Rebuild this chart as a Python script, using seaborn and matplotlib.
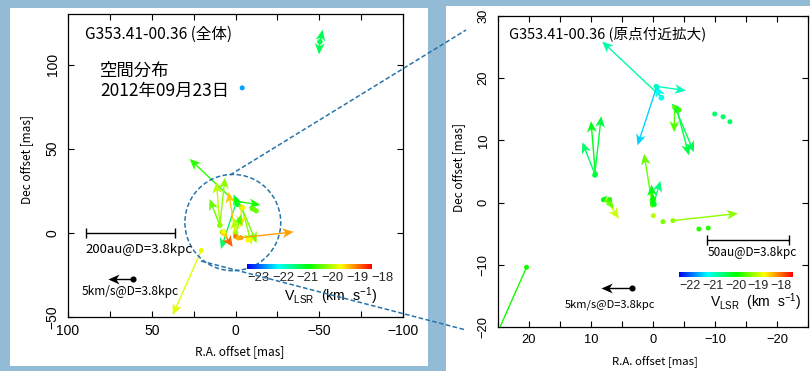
import numpy as np
import pandas as pd
import matplotlib
matplotlib.use("Agg")
import matplotlib.pyplot as plt
import seaborn as sns
from matplotlib.colors import LinearSegmentedColormap, Normalize
from matplotlib.patches import Rectangle, Circle
from matplotlib.lines import Line2D

# ---------------- data (maser spots) ----------------
# positions in mas, VLSR in km/s, proper motions in km/s (NaN = no vector)
ra = [-1.4, -0.6, -0.5, -1.3,
      -3.9, -3.6, -3.5, -3.9, -4.2,
      -9.95, -11.3, -12.4,
      9.35, 9.3, 9.4,
      8.0, 7.4, 7.2, 7.0,
      0.1, -0.1, 0.1, 0.0, -0.2,
      -0.05, -1.6, -3.2, -7.4, -8.9,
      20.4, -50.5, -50.3, -4.0]
dec = [16.9, 18.6, 18.7, 16.8,
       14.8, 15.2, 15.3, 15.0, 14.9,
       14.25, 13.8, 13.0,
       4.5, 4.6, 4.4,
       0.45, 0.3, 0.2, 0.5,
       -0.4, -0.2, 0.0, 0.2, -0.3,
       -2.1, -3.07, -2.9, -4.25, -4.1,
       -10.4, 113.5, 113.5, 86.1]
vlsr = [-20.3, -20.95, -20.4, -20.7,
        -19.8, -19.9, -19.1, -19.8, -19.2,
        -20.0, -20.0, -20.0,
        -20.0, -19.6, -19.8,
        -19.6, -18.5, -19.0, -19.3,
        -19.0, -20.1, -19.6, -19.5, -19.7,
        -18.6, -18.9, -18.8, -19.3, -19.3,
        -19.4, -20.9, -20.9, -22.2]
pm_ra = [9.6, 3.1, -4.8, 0.8,
         -1.9, -3.0, 0.1, 0.9, 0.4,
         np.nan, np.nan, np.nan,
         2.05, 0.7, -1.05,
         -0.6, -1.9, -0.9, -0.3,
         1.35, -1.1, 0.15, 0.1, 0.0,
         np.nan, np.nan, -10.5, np.nan, np.nan,
         5.7, -0.5, 0.15, np.nan]
pm_dec = [9.0, -9.4, -0.7, 2.0,
          -7.2, -7.1, -4.0, 0.9, 0.3,
          np.nan, np.nan, np.nan,
          5.2, 8.5, 9.5,
          0.65, -2.9, -1.2, 0.4,
          8.25, 3.7, 2.9, 1.4, 0.9,
          np.nan, np.nan, 1.15, np.nan, np.nan,
          -12.8, 2.4, -2.5, np.nan]

left_ticks_cb = [-23, -22, -21, -20, -19, -18]
right_ticks_cb = [-22, -21, -20, -19, -18]

df = pd.DataFrame(dict(ra=ra, dec=dec, vlsr=vlsr, pm_ra=pm_ra, pm_dec=pm_dec))

REF_V = 5.0              # km/s reference vector
AU_LEFT, AU_RIGHT = 200, 50
DIST_KPC = 3.8

# ---------------- style ----------------
sns.set_style("ticks")
plt.rcParams["font.family"] = ["Liberation Sans", "Noto Sans CJK JP", "DejaVu Sans"]
plt.rcParams["axes.unicode_minus"] = True
JP = ["Noto Sans CJK JP", "DejaVu Sans"]
LAT = ["Liberation Sans", "DejaVu Sans"]

BG = "#94bbd5"
DASH = "#2674a8"
cmap = LinearSegmentedColormap.from_list(
    "rb", ["#0000ff", "#00ffff", "#00ff00", "#ffff00", "#ff0000"])

W, H = 810, 371
def fx(px): return px / W
def fy(py): return 1 - py / H

fig = plt.figure(figsize=(8.1, 3.71), dpi=100, facecolor=BG)
fig.add_artist(Rectangle((fx(10), fy(366)), 418 / W, 358 / H, transform=fig.transFigure,
                         facecolor="white", edgecolor="none", zorder=-5))
fig.add_artist(Rectangle((fx(446), fy(371)), 364 / W, 365 / H, transform=fig.transFigure,
                         facecolor="white", edgecolor="none", zorder=-5))

ax1 = fig.add_axes([fx(68), fy(317), 335 / W, 303 / H])
ax2 = fig.add_axes([fx(498), fy(327), 310 / W, 311 / H])

qkw = dict(angles="xy", scale_units="xy", units="dots", width=1.4,
           headwidth=7.0, headlength=8.0, headaxislength=6.0)

def panel(ax, norm, scale, tfs):
    ax.set_facecolor("white")
    ax.quiver(df.ra, df.dec, df.pm_ra, df.pm_dec, df.vlsr, cmap=cmap, norm=norm,
              scale=1.0 / scale, zorder=3, **qkw)
    sns.scatterplot(data=df, x="ra", y="dec", hue="vlsr", palette=cmap, hue_norm=norm,
                    s=13, linewidth=0, legend=False, ax=ax, zorder=4)
    for s in ax.spines.values():
        s.set_linewidth(0.9)
        s.set_color("black")
    ax.tick_params(which="both", direction="in", top=True, right=True,
                   length=4.5, width=0.8, labelsize=tfs, colors="black")
    ax.tick_params(axis="y", labelrotation=90, pad=6)
    ax.tick_params(axis="x", pad=5)
    ax.set_xlabel("")
    ax.set_ylabel("")

# ---- left panel ----
normL = Normalize(-23, -18)
SL = 3.0
panel(ax1, normL, SL, 10)
ax1.set_xlim(100, -100)
ax1.set_ylim(-50, 130)
ax1.set_xticks([100, 50, 0, -50, -100])
ax1.set_xticks(np.arange(-100, 101, 25), minor=True)
ax1.set_yticks([-50, 0, 50, 100])
for lb in ax1.get_yticklabels():
    lb.set_va("center")

# ---- right panel ----
normR = Normalize(-22, -17)
SR = 1.0
panel(ax2, normR, SR, 9.3)
ax2.set_xlim(25, -25)
ax2.set_ylim(-20, 30)
ax2.set_xticks([20, 10, 0, -10, -20])
ax2.set_xticks(np.arange(-25, 26, 5), minor=True)
ax2.set_yticks([-20, -10, 0, 10, 20, 30])
for lb in ax2.get_yticklabels():
    lb.set_va("center")

# scale bars and reference vectors
def scalebar(ax, x0, y0, au):
    L = au / DIST_KPC
    ax.plot([x0, x0 - L], [y0, y0], color="black", lw=1.0, marker="|", ms=7, mew=1.0, zorder=5)

def refvec(ax, x0, y0, scale):
    ax.quiver([x0], [y0], [REF_V], [0], color="black", scale=1.0 / scale, zorder=5, **qkw)
    ax.plot([x0], [y0], "o", color="black", ms=3.4, zorder=6)

scalebar(ax1, 89, 0, AU_LEFT)
refvec(ax1, 60.9, -27.6, SL)
scalebar(ax2, -8.7, -6.0, AU_RIGHT)
refvec(ax2, 3.44, -13.8, SR)

# zoom circle
ax1.add_patch(Circle((1.6, 6.1), 28.6, fill=False, edgecolor=DASH, lw=1.1,
                     linestyle=(0, (3, 1.6)), zorder=6))

# connector lines
for (x0, y0, x1, y1) in [(230, 175, 466, 30), (201, 261, 466, 330)]:
    fig.add_artist(Line2D([fx(x0), fx(x1)], [fy(y0), fy(y1)], transform=fig.transFigure,
                          color=DASH, lw=1.1, linestyle=(0, (3, 1.6)), zorder=20))

# colorbars
def cbar(rect, vmin, vmax, ticks, fs):
    cax = fig.add_axes(rect)
    grad = np.linspace(0, 1, 256)[None, :]
    cax.imshow(grad, aspect="auto", cmap=cmap, extent=[vmin, vmax, 0, 1])
    cax.set_xlim(vmin, vmax)
    cax.set_yticks([])
    cax.set_xticks(ticks)
    cax.set_xticklabels(["\u2212%d" % abs(t) for t in ticks], family=LAT)
    for lb in cax.get_xticklabels():
        lb.set_ha("left")
    cax.tick_params(axis="x", length=0, pad=2, labelsize=fs)
    for s in cax.spines.values():
        s.set_visible(False)
    return cax

cbar([fx(247), fy(269.5), 124.5 / W, 6 / H], -23, -18, left_ticks_cb, 9.4)
cbar([fx(679.3), fy(277.5), 114 / W, 5.5 / H], -22, -17, right_ticks_cb, 9.0)

# texts
def T(px, py, s, fs, ha="left", va="center", rot=0, fam=JP):
    fig.text(fx(px), fy(py), s, fontsize=fs, ha=ha, va=va, rotation=rot,
             color="black", family=fam)

vl = "V$_\\mathregular{LSR}$  (km  s$^\\mathregular{-1}$)"

T(85, 34.5, "G353.41-00.36 (全体)", 11.2)
T(100, 71, "空間分布", 12.5)
T(100, 90.7, "2012年09月23日", 12.5)
T(85, 249, "200au@D=3.8kpc", 9.5)
T(81.7, 291.7, "5km/s@D=3.8kpc", 8.6)
T(331, 296, vl, 10.2, ha="center", fam=LAT)
T(26.7, 160, "Dec offset [mas]", 8.5, ha="center", rot=90)
T(239.3, 351.7, "R.A. offset [mas]", 8.5, ha="center")

T(509.3, 33.3, "G353.41-00.36 (原点付近拡大)", 10.5)
T(707.7, 252.3, "50au@D=3.8kpc", 8.5)
T(610, 305, "5km/s@D=3.8kpc", 8.0, ha="center")
T(756, 302, vl, 10, ha="center", fam=LAT)
T(459, 167, "Dec offset [mas]", 8.5, ha="center", rot=90)
T(655, 362.5, "R.A. offset [mas]", 8.2, ha="center")

fig.savefig("out.png", dpi=100, facecolor=BG)
